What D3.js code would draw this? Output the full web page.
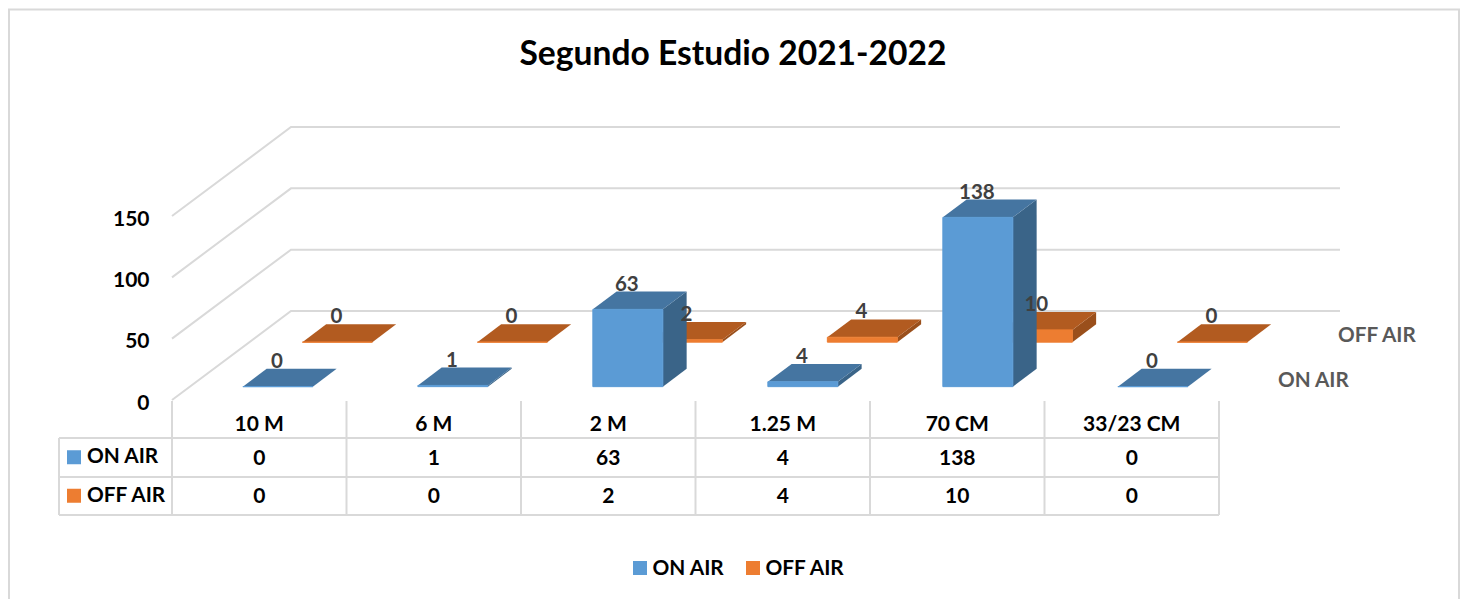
<!DOCTYPE html>
<html>
<head>
<meta charset="utf-8">
<script src="https://cdn.jsdelivr.net/npm/d3@7"></script>
<style>
    html, body { margin: 0; padding: 0; background: #fff; overflow: hidden; }
    text { font-family: Lato, "Open Sans", sans-serif; font-weight: 700; }
</style>
</head>
<body>
<svg id="chart" width="1463" height="599"></svg>
<script>
// chart values
const categories = ["10 M", "6 M", "2 M", "1.25 M", "70 CM", "33/23 CM"];
const seriesNames = ["ON AIR", "OFF AIR"];
const onAir = [0, 1, 63, 4, 138, 0];
const offAir = [0, 0, 2, 4, 10, 0];
const yTicks = [0, 50, 100, 150];

const colors = {
    "ON AIR": { front: "#5b9bd5", top: "#4575a1", side: "#3a6488" },
    "OFF AIR": { front: "#ed7d31", top: "#b25b20", side: "#9a4f1b" }
};
const grey = "#d9d9d9";

const svg = d3.select("#chart");

// category axis runs along the front edge of the floor
const x = d3.scaleBand().domain(categories).range([172.5, 1222.5]).paddingInner(0.6).paddingOuter(0.3);
// depth: 0 is the front of the floor, 1 the back wall
const depth = d3.scaleBand().domain(seriesNames).range([0, 1]).paddingInner(0.6).paddingOuter(0.3);
const yFront = d3.scaleLinear().domain([0, 150]).range([400, 216]);

const depthX = 119, depthY = 89;
const wallRight = 1340;

// oblique projection of (x pixel, value, depth) on to the page
const px = (xp, t) => xp + depthX * t;
const py = (v, t) => yFront(v) - depthY * t;
const poly = pts => "M" + pts.map(p => p.join(",")).join("L") + "Z";

// chart frame
svg.append("path")
    .attr("d", "M9,605V9.5H1459V605")
    .attr("fill", "none")
    .attr("stroke", grey)
    .attr("stroke-width", 2);

svg.append("text")
    .attr("x", 733)
    .attr("y", 65)
    .attr("text-anchor", "middle")
    .attr("font-size", 33.6)
    .attr("fill", "#000")
    .text("Segundo Estudio 2021-2022");

// gridlines on side and back wall
svg.append("g").selectAll("path")
    .data(yTicks)
    .join("path")
    .attr("d", v => d3.line()([[px(172, 0), py(v, 0)], [px(172, 1), py(v, 1)], [wallRight, py(v, 1)]]))
    .attr("fill", "none")
    .attr("stroke", grey)
    .attr("stroke-width", 2);

// value axis
const yAxis = svg.append("g")
    .attr("transform", "translate(149.5,2.5)")
    .call(d3.axisLeft(yFront).tickValues(yTicks).tickSize(0).tickPadding(0));
yAxis.select(".domain").remove();
yAxis.selectAll("text")
    .attr("font-size", 21)
    .attr("fill", "#000")
    .style("font-family", "Lato")
    .style("font-weight", 700);

// bars, back row first so the front row covers it
const rows = [
    { name: "OFF AIR", values: offAir },
    { name: "ON AIR", values: onAir }
];

rows.forEach(row => {
    const t0 = depth(row.name);
    const t1 = t0 + depth.bandwidth();
    const c = colors[row.name];
    const g = svg.append("g").attr("class", "row");

    const bars = g.selectAll("g")
        .data(row.values.map((v, i) => ({ v: v, cat: categories[i] })))
        .join("g");

    const xl = d => x(d.cat);
    const xr = d => x(d.cat) + x.bandwidth();

    bars.append("path")
        .attr("d", d => poly([
            [px(xr(d), t0), py(0, t0)],
            [px(xr(d), t1), py(0, t1)],
            [px(xr(d), t1), py(d.v, t1)],
            [px(xr(d), t0), py(d.v, t0)]
        ]))
        .attr("fill", c.side);

    bars.append("path")
        .attr("d", d => poly([
            [px(xl(d), t0), py(d.v, t0)],
            [px(xr(d), t0), py(d.v, t0)],
            [px(xr(d), t1), py(d.v, t1)],
            [px(xl(d), t1), py(d.v, t1)]
        ]))
        .attr("fill", c.top);

    bars.append("path")
        .attr("d", d => poly([
            [px(xl(d), t0), py(0, t0)],
            [px(xr(d), t0), py(0, t0)],
            [px(xr(d), t0), py(d.v, t0)],
            [px(xl(d), t0), py(d.v, t0)]
        ]))
        .attr("fill", c.front)
        .attr("stroke", c.front)
        .attr("stroke-width", 1);
});

// data labels go on top of all bars
rows.forEach(row => {
    const t1 = depth(row.name) + depth.bandwidth();
    const t0 = depth(row.name);
    svg.append("g").selectAll("text")
        .data(row.values.map((v, i) => ({ v: v, cat: categories[i] })))
        .join("text")
        .attr("x", d => px(x(d.cat) + x.bandwidth() / 2, t0) - 1)
        .attr("y", d => py(d.v, t1) - 1)
        .attr("text-anchor", "middle")
        .attr("font-size", 20.5)
        .attr("fill", "#404040")
        .text(d => d.v);
});

// series names at the end of the depth axis
const seriesLabelX = { "ON AIR": 1278, "OFF AIR": 1338 };
svg.append("g").selectAll("text")
    .data(seriesNames)
    .join("text")
    .attr("x", d => seriesLabelX[d])
    .attr("y", d => py(0, depth(d)))
    .attr("text-anchor", "start")
    .attr("font-size", 20.7)
    .attr("fill", "#595959")
    .text(d => d);

// data table under the plot
const col = d3.scaleBand().domain(categories).range([172, 1219]);
const tableRow = d3.scaleBand().domain(seriesNames).range([438, 515]);
const tableX0 = 59;

const table = svg.append("g")
    .attr("stroke", grey)
    .attr("stroke-width", 2)
    .attr("fill", "none");

table.selectAll("path.v")
    .data(categories.concat(["end"]))
    .join("path")
    .attr("class", "v")
    .attr("d", (d, i) => {
        const xp = 172 + col.step() * i;
        return "M" + xp + ",401V515";
    });

table.append("path").attr("d", "M" + tableX0 + ",438V515");
[438, 477, 515].forEach(yp => {
    table.append("path").attr("d", "M" + tableX0 + "," + yp + "H1219");
});

svg.append("g").selectAll("text")
    .data(categories)
    .join("text")
    .attr("x", d => col(d) + col.bandwidth() / 2)
    .attr("y", 431)
    .attr("text-anchor", "middle")
    .attr("font-size", 21)
    .attr("fill", "#000")
    .text(d => d);

rows.forEach(row => {
    const yMid = tableRow(row.name) + tableRow.bandwidth() / 2;
    svg.append("rect")
        .attr("x", 67)
        .attr("y", yMid - 7)
        .attr("width", 14)
        .attr("height", 14)
        .attr("fill", colors[row.name].front);
    svg.append("text")
        .attr("x", 87)
        .attr("y", yMid + 6)
        .attr("font-size", 20.8)
        .attr("fill", "#000")
        .text(row.name);
    svg.append("g").selectAll("text")
        .data(row.values.map((v, i) => ({ v: v, cat: categories[i] })))
        .join("text")
        .attr("x", d => col(d.cat) + col.bandwidth() / 2)
        .attr("y", yMid + 7.5)
        .attr("text-anchor", "middle")
        .attr("font-size", 21)
        .attr("fill", "#000")
        .text(d => d.v);
});

// legend
const legendX = { "ON AIR": 633, "OFF AIR": 746 };
const legend = svg.append("g").selectAll("g")
    .data(seriesNames)
    .join("g")
    .attr("transform", d => "translate(" + legendX[d] + ",561)");
legend.append("rect")
    .attr("width", 14)
    .attr("height", 14)
    .attr("fill", d => colors[d].front);
legend.append("text")
    .attr("x", 19.5)
    .attr("y", 14)
    .attr("font-size", 20.8)
    .attr("fill", "#000")
    .text(d => d);
</script>
</body>
</html>
